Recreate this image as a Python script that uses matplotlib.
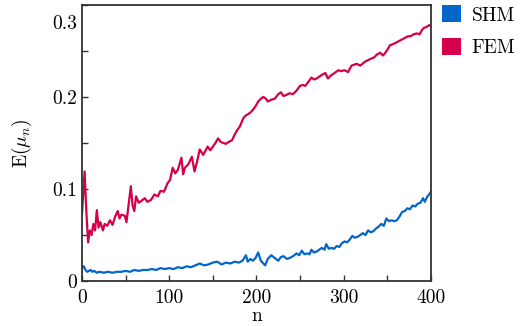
import matplotlib
matplotlib.use("Agg")
import matplotlib.pyplot as plt
from matplotlib.patches import Patch
from matplotlib.ticker import MultipleLocator
from matplotlib.transforms import ScaledTranslation

plt.rcParams['font.family'] = 'serif'
plt.rcParams['font.serif'] = ['cmr10']
plt.rcParams['mathtext.fontset'] = 'cm'
plt.rcParams['axes.formatter.use_mathtext'] = True

# valores
n_fem = [0, 3, 5, 7, 9, 11, 13, 15, 17, 19, 21, 24, 26, 29, 32, 35, 38, 41, 43, 45,
         49, 51, 53, 56, 58, 60, 62, 65, 68, 72, 75, 79, 83, 87, 90, 94, 98, 101, 104, 107,
         110, 114, 116, 118, 122, 126, 129, 132, 135, 139, 144, 147, 150, 153, 156, 159, 162, 165, 168, 172,
         175, 178, 181, 185, 188, 190, 193, 196, 199, 202, 205, 208, 211, 213, 217, 221, 225, 228, 231, 234,
         238, 242, 246, 250, 253, 256, 260, 263, 266, 269, 272, 275, 279, 282, 285, 288, 291, 294, 297, 301,
         305, 309, 312, 315, 319, 324, 330, 335, 338, 342, 345, 347, 350, 353, 358, 362, 366, 370, 374, 377,
         380, 384, 387, 390, 392, 395, 398, 400]
e_fem = [0.073, 0.119, 0.075, 0.042, 0.055, 0.050, 0.062, 0.055, 0.077, 0.058, 0.064, 0.055, 0.062, 0.060, 0.066, 0.061, 0.070, 0.076, 0.068, 0.072,
         0.071, 0.064, 0.080, 0.103, 0.082, 0.076, 0.092, 0.085, 0.087, 0.090, 0.086, 0.088, 0.094, 0.092, 0.098, 0.097, 0.106, 0.110, 0.123, 0.117,
         0.121, 0.134, 0.116, 0.123, 0.127, 0.135, 0.119, 0.130, 0.143, 0.137, 0.146, 0.142, 0.146, 0.150, 0.155, 0.151, 0.150, 0.149, 0.151, 0.153,
         0.159, 0.164, 0.168, 0.177, 0.180, 0.181, 0.183, 0.186, 0.190, 0.195, 0.198, 0.200, 0.198, 0.195, 0.197, 0.198, 0.203, 0.205, 0.201, 0.202,
         0.204, 0.203, 0.207, 0.212, 0.213, 0.212, 0.217, 0.221, 0.219, 0.220, 0.222, 0.224, 0.226, 0.220, 0.223, 0.225, 0.227, 0.229, 0.228, 0.229,
         0.227, 0.234, 0.235, 0.236, 0.234, 0.238, 0.241, 0.243, 0.246, 0.248, 0.245, 0.247, 0.251, 0.256, 0.258, 0.260, 0.262, 0.264, 0.266, 0.266,
         0.268, 0.269, 0.268, 0.273, 0.275, 0.276, 0.278, 0.277]

n_shm = [0, 2, 4, 6, 8, 10, 12, 14, 17, 20, 25, 30, 35, 40, 45, 50, 55, 60, 65, 70,
         75, 80, 85, 90, 95, 100, 105, 110, 115, 120, 125, 130, 135, 140, 145, 150, 155, 160, 165, 170,
         175, 180, 184, 188, 190, 193, 196, 199, 202, 205, 208, 210, 213, 217, 221, 225, 228, 231, 235, 238,
         242, 246, 249, 252, 255, 258, 261, 263, 266, 269, 272, 275, 278, 280, 283, 286, 289, 292, 295, 298,
         301, 304, 307, 310, 313, 316, 319, 322, 325, 328, 331, 334, 337, 340, 343, 346, 349, 352, 355, 358,
         361, 364, 367, 370, 373, 376, 379, 382, 385, 388, 391, 393, 396, 398, 400]
e_shm = [0.014, 0.016, 0.012, 0.010, 0.011, 0.012, 0.010, 0.011, 0.009, 0.010, 0.009, 0.010, 0.009, 0.010, 0.010, 0.011, 0.010, 0.012, 0.011, 0.012,
         0.012, 0.013, 0.012, 0.014, 0.013, 0.014, 0.013, 0.015, 0.014, 0.016, 0.015, 0.017, 0.019, 0.017, 0.018, 0.020, 0.021, 0.018, 0.020, 0.019,
         0.021, 0.020, 0.022, 0.028, 0.021, 0.024, 0.022, 0.025, 0.031, 0.022, 0.019, 0.017, 0.024, 0.028, 0.025, 0.022, 0.026, 0.027, 0.024, 0.025,
         0.027, 0.030, 0.028, 0.033, 0.029, 0.030, 0.029, 0.034, 0.031, 0.032, 0.034, 0.036, 0.034, 0.040, 0.035, 0.036, 0.035, 0.038, 0.037, 0.041,
         0.043, 0.042, 0.045, 0.049, 0.047, 0.048, 0.050, 0.052, 0.050, 0.055, 0.053, 0.054, 0.057, 0.059, 0.062, 0.060, 0.068, 0.065, 0.066, 0.065,
         0.066, 0.070, 0.075, 0.076, 0.079, 0.078, 0.082, 0.081, 0.084, 0.085, 0.090, 0.086, 0.092, 0.094, 0.097]

series = ['SHM', 'FEM']
colores = ['#0066cc', '#d5004b']

x_ticks = [0, 100, 200, 300, 400]
y_ticks = [0, 0.1, 0.2, 0.3]
y_labels = ['0', '0.1', '0.2', '0.3']

fig = plt.figure(figsize=(5.27, 3.26), dpi=100)
ax = fig.add_axes([0.1556, 0.138, 0.662, 0.847])

ax.plot(n_shm, e_shm, color=colores[0], lw=1.6)
ax.plot(n_fem, e_fem, color=colores[1], lw=1.6)

ax.set_xlim(0, 400)
ax.set_ylim(0, 0.298)
ax.set_xticks(x_ticks)
ax.set_xticklabels([str(t) for t in x_ticks])
ax.set_yticks(y_ticks)
ax.set_yticklabels(y_labels)
ax.xaxis.set_minor_locator(MultipleLocator(50))
ax.yaxis.set_minor_locator(MultipleLocator(0.05))
ax.tick_params(which='both', direction='in', top=False, right=False,
               labelsize=14, color='#333333', width=1.0, length=4)
ax.tick_params(axis='x', pad=6)
# la etiqueta 0.3 esta desplazada hacia abajo en el original
lab = ax.get_yticklabels()[-1]
lab.set_transform(lab.get_transform() + ScaledTranslation(0, -12 / 72, fig.dpi_scale_trans))
for s in ax.spines.values():
    s.set_color('#333333')
    s.set_linewidth(1.3)

ax.set_xlabel('n', fontsize=14, labelpad=0)
ax.set_ylabel(r'E($\mu_n$)', fontsize=14, labelpad=13)

handles = [Patch(facecolor=c, edgecolor='none', label=s) for s, c in zip(series, colores)]
fig.legend(handles=handles, loc='upper left', bbox_to_anchor=(0.806, 1.037),
           frameon=False, fontsize=14, handlelength=0.95, handleheight=0.95,
           labelspacing=0.7, handletextpad=0.55)

fig.savefig('out.png', dpi=100)
